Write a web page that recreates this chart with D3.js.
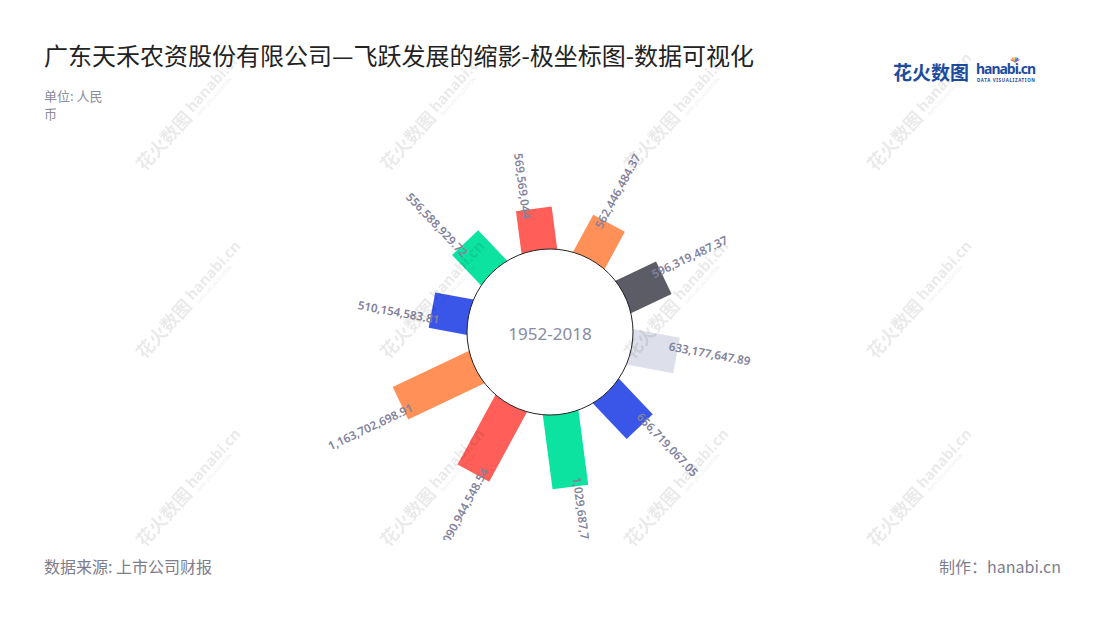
<!DOCTYPE html>
<html>
<head>
<meta charset="utf-8">
<script src="https://cdn.jsdelivr.net/npm/d3@7/dist/d3.min.js"></script>
<style>
  html, body { margin: 0; padding: 0; background: #fff; }
  svg { display: block; }
  text { font-family: "Noto Sans", "Noto Sans CJK SC", sans-serif; }
</style>
</head>
<body>
<svg id="chart" width="1100" height="620"></svg>
<script>
// ---- data ----
const categories = ["c1", "c2", "c3", "c4", "c5", "c6", "c7", "c8", "c9", "c10"];
const values = [569569044, 562446484.37, 596319487.37, 633177647.89, 656719067.05,
                1029687723.5, 1090944548.54, 1163702698.91, 510154583.81, 556588929.72];
const colors = ["#ff5f58", "#ff9158", "#5b5c66", "#dde0ea", "#3a56e8",
                "#0ce3a1", "#ff5f58", "#ff9158", "#3a56e8", "#0ce3a1"];
const titleText = "广东天禾农资股份有限公司—飞跃发展的缩影-极坐标图-数据可视化";
const unitLines = ["单位: 人民", "币"];
const centerLabel = "1952-2018";
const sourceText = "数据来源: 上市公司财报";
const makerText = "制作：hanabi.cn";

// ---- layout ----
const svg = d3.select("#chart");
const cx = 550, cy = 332, holeR = 83;
const barW = 36;
const labelColor = "#82829c";

// angle (degrees, clockwise from top)
const angle = d3.scaleBand().domain(categories).range([-25.5, 334.5]).padding(0);
const aMid = c => angle(c) + angle.bandwidth() / 2;
const radius = d3.scaleLinear().domain([0, 1.2e9]).range([84.5, 168.2]);
const fmt = d3.format(",");
const norm = a => ((a % 360) + 360) % 360;

// titles
svg.append("text").attr("x", 44).attr("y", 65).attr("font-size", 24)
  .attr("fill", "#222").style("font-family", "'Noto Sans CJK SC', sans-serif").text(titleText);
svg.selectAll("text.unit").data(unitLines).join("text").attr("class", "unit")
  .attr("x", 44).attr("y", (d, i) => 101 + i * 18).attr("font-size", 13)
  .attr("fill", "#8a8a9a").style("font-family", "'Noto Sans CJK SC', sans-serif").text(d => d);
svg.append("text").attr("x", 44).attr("y", 573).attr("font-size", 16)
  .attr("fill", "#7d7d8e").style("font-family", "'Noto Sans CJK SC', sans-serif").text(sourceText);
svg.append("text").attr("x", 1061).attr("y", 573).attr("font-size", 16).attr("text-anchor", "end")
  .attr("fill", "#7d7d8e").style("font-family", "'Noto Sans CJK SC', sans-serif").text(makerText);

// logo
const logo = svg.append("g");
logo.append("text").attr("x", 893).attr("y", 80).attr("font-size", 19).attr("font-weight", "bold")
  .attr("fill", "#1d4c9e").style("font-family", "'Noto Sans CJK SC', sans-serif").text("花火数图");
logo.append("text").attr("x", 976).attr("y", 74).attr("font-size", 14).attr("font-weight", "bold")
  .attr("fill", "#1d4c9e").attr("textLength", 60).text("hanabi.cn");
logo.append("text").attr("x", 977).attr("y", 82).attr("font-size", 4.5).attr("font-weight", "bold")
  .attr("fill", "#1d4c9e").attr("textLength", 58).text("DATA VISUALIZATION");
const sparkCols = ["#ff5f58", "#ff9158", "#f5c542", "#0ce3a1", "#3a56e8", "#b05cf0"];
logo.selectAll("line.spark").data(sparkCols).join("line").attr("class", "spark")
  .attr("x1", 1015).attr("y1", 62)
  .attr("x2", (d, i) => 1015 + 5 * Math.cos((-150 + i * 24) * Math.PI / 180))
  .attr("y2", (d, i) => 62 + 5 * Math.sin((-150 + i * 24) * Math.PI / 180))
  .attr("stroke", d => d).attr("stroke-width", 1.4);

// chart
const data = categories.map((c, i) => ({ c, v: values[i], col: colors[i] }));
const g = svg.append("g").attr("transform", `translate(${cx},${cy})`);

svg.append("clipPath").attr("id", "clipLabels").append("rect")
  .attr("x", -cx).attr("y", 125 - cy).attr("width", 1100).attr("height", 540 - 125);

g.selectAll("rect.bar").data(data).join("rect").attr("class", "bar")
  .attr("transform", d => `rotate(${aMid(d.c)})`)
  .attr("x", -barW / 2).attr("width", barW)
  .attr("y", d => -radius(d.v))
  .attr("height", d => radius(d.v) - 70)
  .attr("fill", d => d.col);

g.append("circle").attr("r", holeR).attr("fill", "#fff").attr("stroke", "#222").attr("stroke-width", 1);

g.append("text").attr("text-anchor", "middle").attr("dominant-baseline", "central")
  .attr("y", 1).attr("font-size", 17).attr("fill", "#8a8aa3").text(centerLabel);

const labels = g.append("g").attr("clip-path", "url(#clipLabels)");
labels.selectAll("text").data(data).join("text")
  .attr("transform", d => norm(aMid(d.c)) < 180 ? `rotate(${aMid(d.c) - 90})` : `rotate(${aMid(d.c) + 90})`)
  .attr("x", d => norm(aMid(d.c)) < 180 ? radius(d.v) - 9 : -(radius(d.v) - 9))
  .attr("y", d => norm(aMid(d.c)) < 180 ? -8 : 8)
  .attr("dominant-baseline", "central")
  .attr("text-anchor", d => norm(aMid(d.c)) < 180 ? "start" : "end")
  .attr("font-size", 11.6).attr("font-weight", 600).attr("fill", labelColor)
  .text(d => fmt(d.v));

// watermarks (on top, faint)
const wmX = [187, 431, 675, 918], wmY = [116, 304, 492];
const wm = svg.append("g").attr("opacity", 0.085).attr("pointer-events", "none");
wmY.forEach(y => wmX.forEach(x => {
  const w = wm.append("g").attr("transform", `translate(${x},${y}) rotate(-48)`);
  w.append("text").attr("x", -70).attr("y", 6).attr("font-size", 18).attr("font-weight", "bold")
    .attr("fill", "#000").style("font-family", "'Noto Sans CJK SC', sans-serif").text("花火数图");
  w.append("text").attr("x", 6).attr("y", 2).attr("font-size", 15).attr("font-weight", "bold")
    .attr("fill", "#000").text("hanabi.cn");
  w.append("text").attr("x", 8).attr("y", 9).attr("font-size", 5)
    .attr("fill", "#000").text("DATA VISUALIZATION");
}));
</script>
</body>
</html>
